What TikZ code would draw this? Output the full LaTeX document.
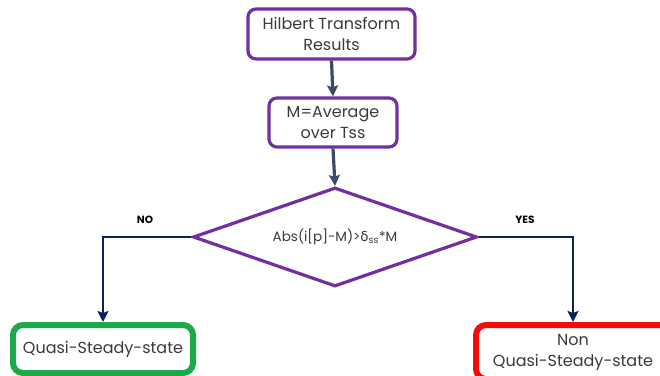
\documentclass[tikz,border=0pt]{standalone}
\usepackage{fontspec}
\setmainfont{Poppins}
\newfontfamily\greekf{DejaVu Sans}
\usetikzlibrary{shapes.geometric,arrows.meta}
\definecolor{boxpurple}{HTML}{7030A0}
\definecolor{okgreen}{HTML}{1DA84B}
\definecolor{badred}{HTML}{F20D0D}
\definecolor{slate}{HTML}{3A4A68}
\definecolor{navy}{HTML}{0B2060}
\definecolor{txt}{HTML}{3A3A3A}
\tikzset{
  procbox/.style={draw=boxpurple, line width=3.2pt, rounded corners=8pt, fill=white,
    inner sep=0pt, align=center, text=txt, font=\fontsize{16}{21}\selectfont},
  decbox/.style={draw=boxpurple, line width=3.2pt, shape=diamond, fill=white,
    inner sep=0pt, minimum width=284pt, minimum height=99pt, aspect=2.87,
    text=txt, font=\fontsize{13.5}{16}\selectfont},
  endbox/.style={line width=6pt, rounded corners=10pt, fill=white,
    inner sep=0pt, align=center, text=txt, font=\fontsize{16}{21}\selectfont},
  flow/.style={line width=3.2pt, -{Stealth[length=11pt,width=11pt,inset=2pt]}},
  branchlabel/.style={font=\bfseries\fontsize{10.5}{12}\selectfont, text=black}
}
\begin{document}
\begin{tikzpicture}[x=1pt,y=-1pt]
  \useasboundingbox[fill=white] (0,0) rectangle (660,375);
  % process steps
  \node[procbox, minimum width=167pt, minimum height=50pt] (hilb) at (331.5,34)
    {Hilbert Transform\\Results};
  \node[procbox, minimum width=128pt, minimum height=49pt] (avg) at (333,122.5)
    {M=Average\\over Tss};
  % decision
  \node[decbox] (dec) at (335,237)
    {Abs(i[p]-M)>{\greekf δ}\textsubscript{ss}*M};
  % outcomes
  \node[endbox, draw=okgreen, minimum width=180pt, minimum height=48pt] (qss) at (103,349)
    {Quasi-Steady-state};
  \node[endbox, draw=badred, minimum width=194pt, minimum height=54pt] (nqss) at (573,352)
    {Non\\Quasi-Steady-state};
  % connectors
  \draw[flow, slate] (hilb.south) -- (avg.north);
  \draw[flow, slate] (avg.south) -- (dec.north);
  \coordinate (nocorner) at (103,237);
  \coordinate (yescorner) at (573,237);
  \draw[flow, navy, line width=2.8pt] (dec.west) -- (nocorner) -- (qss.north);
  \draw[flow, navy, line width=2.8pt] (dec.east) -- (yescorner) -- (nqss.north);
  \node[branchlabel] (nolab) at (145,220) {NO};
  \node[branchlabel] (yeslab) at (525,220) {YES};
\end{tikzpicture}
\end{document}
